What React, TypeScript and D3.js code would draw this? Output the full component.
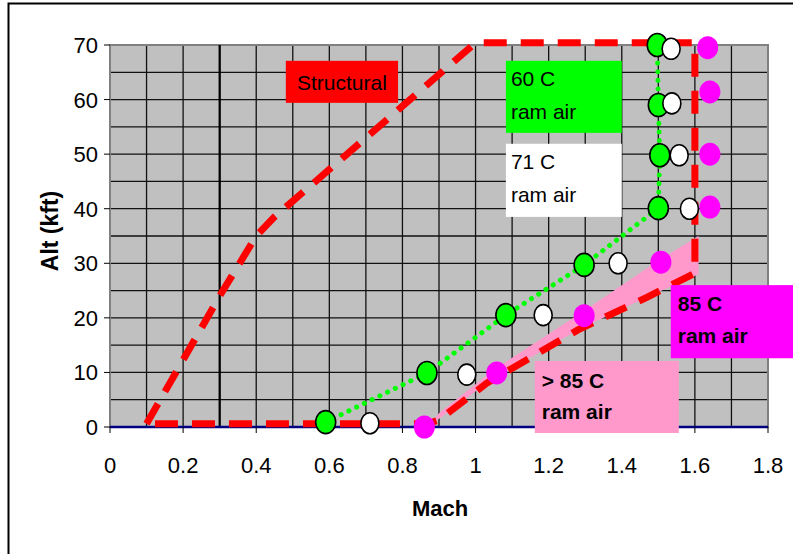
import React from "react";
import * as d3 from "d3";

const machTicks = [0, 0.2, 0.4, 0.6, 0.8, 1, 1.2, 1.4, 1.6, 1.8];
const machTickLabels = ["0", "0.2", "0.4", "0.6", "0.8", "1", "1.2", "1.4", "1.6", "1.8"];
const altTicks = [0, 10, 20, 30, 40, 50, 60, 70];
const machGrid = d3.range(0, 19).map((i) => i / 10);
const altGrid = d3.range(0, 15).map((i) => i * 5);

// Structural envelope (dashed red loop)
const structMach = [0.1, 0.3, 0.4, 0.45, 1.0, 1.6, 1.6, 1.47, 1.28, 1.03, 0.9, 0.87, 0.1];
const structAlt = [0.6, 24, 35, 38.5, 70.4, 70.4, 28.2, 23.8, 17.8, 8, 1.3, 0.6, 0.6];

// >85 C band (pink)
const pinkMach = [0.87, 1.03, 1.28, 1.47, 1.61, 1.61, 1.5, 1.29, 1.05, 0.9];
const pinkAlt = [0, 8, 17.8, 23.8, 28, 35, 30.5, 21, 10.5, 2.5];

// 60 C ram air (green)
const g60Mach = [0.59, 0.867, 1.083, 1.297, 1.5, 1.504, 1.5, 1.497];
const g60Alt = [0.9, 9.9, 20.5, 29.7, 40.1, 49.8, 59, 70];

// 71 C ram air (white)
const w71Mach = [0.711, 0.976, 1.185, 1.39, 1.585, 1.557, 1.537, 1.535];
const w71Alt = [0.7, 9.6, 20.5, 30, 40, 49.8, 59.3, 69.3];

// 85 C ram air (magenta)
const m85Mach = [0.86, 1.058, 1.297, 1.507, 1.641, 1.641, 1.641, 1.635];
const m85Alt = [0, 9.9, 20.4, 30.2, 40.3, 50, 61.4, 69.5];

const W = 793;
const H = 554;

export default function App() {
  const x = d3.scaleLinear().domain([0, 1.8]).range([110, 768]);
  const y = d3.scaleLinear().domain([0, 70]).range([427, 45]);

  const line = d3
    .line<[number, number]>()
    .x((d) => x(d[0]))
    .y((d) => y(d[1]));

  const structPts = structMach.map((m, i) => [m, structAlt[i]] as [number, number]);
  const pinkPts = pinkMach.map((m, i) => [m, pinkAlt[i]] as [number, number]);
  const g60Pts = g60Mach.map((m, i) => [m, g60Alt[i]] as [number, number]);
  const w71Pts = w71Mach.map((m, i) => [m, w71Alt[i]] as [number, number]);
  const m85Pts = m85Mach.map((m, i) => [m, m85Alt[i]] as [number, number]);

  const font = "'Liberation Sans', Arial, sans-serif";

  const box = (m0: number, m1: number, a0: number, a1: number, fill: string) => (
    <rect x={x(m0)} y={y(a0)} width={x(m1) - x(m0)} height={y(a1) - y(a0)} fill={fill} />
  );

  return (
    <svg
      width={W}
      height={H}
      viewBox={`0 0 ${W} ${H}`}
      style={{ position: "absolute", left: 0, top: 0, background: "#fff" }}
    >
      <rect x={0} y={0} width={W} height={H} fill="#fff" />
      {/* outer frame */}
      <rect x={8.5} y={3.5} width={W + 20} height={H + 20} fill="none" stroke="#000" strokeWidth={2} />

      {/* plot area */}
      <rect x={x(0)} y={y(70)} width={x(1.8) - x(0)} height={y(0) - y(70)} fill="#c0c0c0" />
      {machGrid.map((m) => (
        <line key={"vg" + m} x1={x(m)} x2={x(m)} y1={y(0)} y2={y(70)} stroke="#111" strokeWidth={1.3} />
      ))}
      {altGrid.map((a) => (
        <line key={"hg" + a} x1={x(0)} x2={x(1.8)} y1={y(a)} y2={y(a)} stroke="#111" strokeWidth={1.3} />
      ))}
      <rect x={x(0)} y={y(70)} width={x(1.8) - x(0)} height={y(0) - y(70)} fill="none" stroke="#808080" strokeWidth={2} />
      {/* M=0.3 reference */}
      <line x1={x(0.3)} x2={x(0.3)} y1={y(0)} y2={y(70)} stroke="#000" strokeWidth={2.2} />

      {/* axes */}
      <line x1={x(0)} x2={x(1.8)} y1={y(0)} y2={y(0)} stroke="#000080" strokeWidth={2.5} />
      {machTicks.map((m) => (
        <line key={"xt" + m} x1={x(m)} x2={x(m)} y1={y(0)} y2={y(0) + 6} stroke="#000" strokeWidth={1} />
      ))}
      {altTicks.map((a) => (
        <line key={"yt" + a} x1={x(0) - 6} x2={x(0)} y1={y(a)} y2={y(a)} stroke="#000" strokeWidth={1} />
      ))}
      {machTicks.map((m, i) => (
        <text key={"xl" + m} x={x(m)} y={y(0) + 46} textAnchor="middle" fontFamily={font} fontSize={22} fill="#000">
          {machTickLabels[i]}
        </text>
      ))}
      {altTicks.map((a) => (
        <text key={"yl" + a} x={x(0) - 12} y={y(a) + 8} textAnchor="end" fontFamily={font} fontSize={22} fill="#000">
          {a}
        </text>
      ))}
      <text x={440} y={516} textAnchor="middle" fontFamily={font} fontWeight="bold" fontSize={22} fill="#000">
        Mach
      </text>
      <text
        transform={`translate(58,231) rotate(-90)`}
        textAnchor="middle"
        fontFamily={font}
        fontWeight="bold"
        fontSize={23}
        fill="#000"
      >
        Alt (kft)
      </text>

      {/* >85 C pink band */}
      <path d={line(pinkPts) + "Z"} fill="#ff99cc" stroke="none" />

      {/* structural dashed */}
      <path
        d={line(structPts) ?? ""}
        fill="none"
        stroke="#ff0000"
        strokeWidth={7}
        strokeDasharray="23,14"
        strokeLinejoin="miter"
      />

      {/* 60C dotted line */}
      <path
        d={line(g60Pts) ?? ""}
        fill="none"
        stroke="#00ff00"
        strokeWidth={5}
        strokeDasharray="0.1,8.5"
        strokeLinecap="round"
      />

      {/* markers */}
      {g60Pts.map((p, i) => (
        <ellipse key={"g" + i} cx={x(p[0])} cy={y(p[1])} rx={10} ry={11.5} fill="#00ff00" stroke="#000" strokeWidth={1.6} />
      ))}
      {w71Pts.map((p, i) => (
        <ellipse key={"w" + i} cx={x(p[0])} cy={y(p[1])} rx={9} ry={10.5} fill="#ffffff" stroke="#000" strokeWidth={1.6} />
      ))}
      {m85Pts.map((p, i) => (
        <ellipse key={"m" + i} cx={x(p[0])} cy={y(p[1])} rx={10.5} ry={11.5} fill="#ff00ff" />
      ))}

      {/* annotation boxes */}
      {box(0.481, 0.788, 67.1, 59.4, "#ff0000")}
      <text x={(x(0.481) + x(0.788)) / 2} y={y(67.1) + 29} textAnchor="middle" fontFamily={font} fontSize={21} fill="#000">
        Structural
      </text>

      {box(1.083, 1.4, 67.1, 53.9, "#00ff00")}
      <text x={x(1.083) + 5} y={y(67.1) + 25} fontFamily={font} fontSize={21} fill="#000">60 C</text>
      <text x={x(1.083) + 5} y={y(67.1) + 58} fontFamily={font} fontSize={21} fill="#000">ram air</text>

      {box(1.083, 1.4, 51.9, 38.5, "#ffffff")}
      <text x={x(1.083) + 5} y={y(51.9) + 25} fontFamily={font} fontSize={21} fill="#000">71 C</text>
      <text x={x(1.083) + 5} y={y(51.9) + 58} fontFamily={font} fontSize={21} fill="#000">ram air</text>

      {box(1.534, 1.9, 26, 12.6, "#ff00ff")}
      <text x={x(1.534) + 7} y={y(26) + 26} fontFamily={font} fontWeight="bold" fontSize={21} fill="#000">85 C</text>
      <text x={x(1.534) + 7} y={y(26) + 58} fontFamily={font} fontWeight="bold" fontSize={21} fill="#000">ram air</text>

      {box(1.162, 1.556, 12.1, -1.1, "#ff99cc")}
      <text x={x(1.162) + 7} y={y(12.1) + 27} fontFamily={font} fontWeight="bold" fontSize={21} fill="#000">&gt; 85 C</text>
      <text x={x(1.162) + 7} y={y(12.1) + 58} fontFamily={font} fontWeight="bold" fontSize={21} fill="#000">ram air</text>
    </svg>
  );
}
